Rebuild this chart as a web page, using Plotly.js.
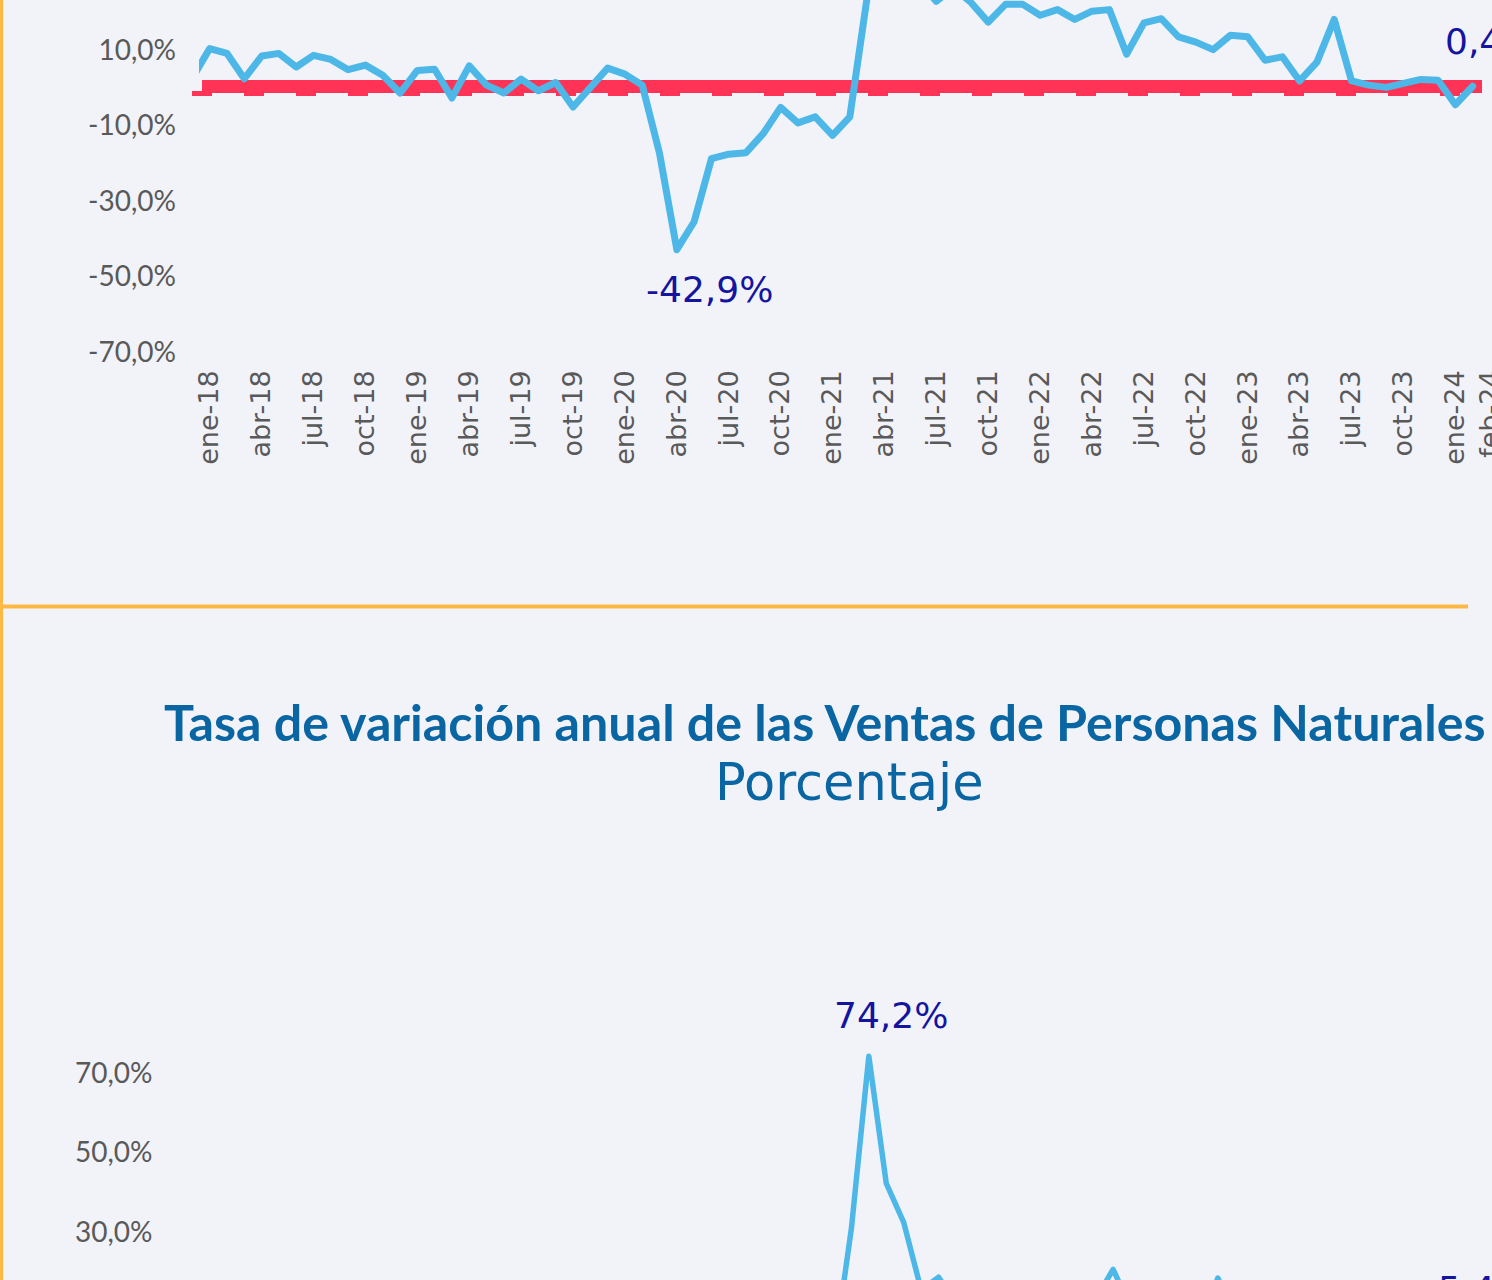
<!DOCTYPE html>
<html lang="es">
<head>
<meta charset="utf-8">
<script src="https://cdn.plot.ly/plotly-3.0.1.min.js"></script>
<style>
html,body{margin:0;padding:0;background:#F2F3F9;overflow:hidden;}
#chart{width:1492px;height:1280px;}
.js-line{stroke-linejoin:round !important;stroke-linecap:round !important;}
</style>
</head>
<body>
<div id="chart"></div>
<script>
// ---------------- DATA ----------------
const meses = [
  'dic-17',
  'ene-18','feb-18','mar-18','abr-18','may-18','jun-18','jul-18','ago-18','sep-18','oct-18','nov-18','dic-18',
  'ene-19','feb-19','mar-19','abr-19','may-19','jun-19','jul-19','ago-19','sep-19','oct-19','nov-19','dic-19',
  'ene-20','feb-20','mar-20','abr-20','may-20','jun-20','jul-20','ago-20','sep-20','oct-20','nov-20','dic-20',
  'ene-21','feb-21','mar-21','abr-21','may-21','jun-21','jul-21','ago-21','sep-21','oct-21','nov-21','dic-21',
  'ene-22','feb-22','mar-22','abr-22','may-22','jun-22','jul-22','ago-22','sep-22','oct-22','nov-22','dic-22',
  'ene-23','feb-23','mar-23','abr-23','may-23','jun-23','jul-23','ago-23','sep-23','oct-23','nov-23','dic-23',
  'ene-24','feb-24'
];

// Upper chart (series partly cut off at the top of the page)
const variacionVentasTotales = [
  2.6,
  10.4, 9.1, 2.4, 8.4, 9.1, 5.5, 8.6, 7.5, 4.8, 6.0, 3.3, -1.4,
  4.6, 4.9, -2.7, 5.8, 0.7, -1.4, 2.3, -0.8, 1.4, -5.1, 0.0, 5.2,
  3.6, 0.7, -17.4, -42.9, -35.5, -18.8, -17.6, -17.2, -12.1, -5.2, -9.3, -7.7,
  -12.6, -7.7, 24.0, 68.0, 45.0, 28.0, 22.9, 26.5, 22.6, 17.4, 22.1, 22.1,
  19.2, 20.7, 18.1, 20.3, 20.7, 8.9, 17.2, 18.3, 13.5, 12.1, 10.1, 13.9,
  13.5, 7.3, 8.2, 1.8, 6.8, 18.1, 1.8, 0.7, 0.1, 1.1, 2.2, 2.0,
  -4.5, 0.4
];

// Lower chart: Ventas de Personas Naturales
const variacionPersonasNaturales = [
  3.0,
  8.0, 6.5, 1.5, 7.0, 7.5, 4.0, 7.0, 6.0, 3.5, 5.0, 2.5, -2.0,
  3.5, 4.0, -3.0, 5.0, 0.5, -2.0, 2.0, -1.0, 1.0, -6.0, -0.5, 4.0,
  2.5, 0.5, -20.0, -48.0, -40.0, -22.0, -20.0, -19.0, -14.0, -7.0, -11.0, -9.0,
  -14.0, -0.3, 30.8, 74.2, 42.2, 32.4, 15.4, 18.6, 12.0, 10.5, 14.0, 13.5,
  11.0, 12.5, 10.0, 12.0, 13.0, 20.6, 11.0, 12.0, 8.5, 7.5, 6.0, 18.4,
  9.0, 5.0, 6.0, 1.0, 4.5, 9.0, 2.0, 1.5, 1.0, 2.0, 3.0, 3.5,
  -2.0, 5.4
];

const etiquetasEjeX = [
  'ene-18','abr-18','jul-18','oct-18','ene-19','abr-19','jul-19','oct-19',
  'ene-20','abr-20','jul-20','oct-20','ene-21','abr-21','jul-21','oct-21',
  'ene-22','abr-22','jul-22','oct-22','ene-23','abr-23','jul-23','oct-23',
  'ene-24'
];
const etiquetaFinalEjeX = ['feb-24'];
const ticksSuperior = [-70, -50, -30, -10, 10];
const ticksInferior = [10, 30, 50, 70];
const lineaReferencia = 0;

const etiquetasSuperior = ['abr-20', 'feb-24'];
const etiquetasInferior = ['abr-21', 'feb-24'];

const tituloInferior = 'Tasa de variación anual de las Ventas de Personas Naturales';
const subtituloInferior = 'Porcentaje';

// ---------------- LAYOUT ----------------
const W = 1492, H = 1280;
const fmt = v => v.toFixed(1).replace('.', ',') + '%';
const px = v => v / W;
const py = v => 1 - v / H;

const areaSup = {l: 199, r: 1482, t: 0, b: 352, ymin: -70, ymax: 23.25};
const areaInf = {l: 177.5, r: 1471.5, t: 1013, b: 1280, ymin: 17.9, ymax: 85.07};
const xRange = [0.38, 74.54];

const azul = '#4DB8E8';
const navy = '#1414A0';
const tituloColor = '#0A66A3';
const gris = '#595959';
const naranja = '#FFB942';
const rojo = '#FF3355';

const yTickFont = {family: 'Lato, sans-serif', size: 28, color: gris};
const xTickFont = {family: 'DejaVu Sans, sans-serif', size: 27, color: gris};
const labelFont = {family: 'DejaVu Sans, sans-serif', size: 36, color: navy};

const traces = [
  {x: meses, y: variacionVentasTotales, xaxis: 'x', yaxis: 'y', type: 'scatter', mode: 'lines',
   line: {color: azul, width: 7}, hoverinfo: 'skip'},
  {x: meses, y: variacionPersonasNaturales, xaxis: 'x2', yaxis: 'y2', type: 'scatter', mode: 'lines',
   line: {color: azul, width: 5.5}, hoverinfo: 'skip'},
  // carrier (invisible) for the overlay axis that holds the last month label
  {x: meses, y: variacionVentasTotales, xaxis: 'x3', yaxis: 'y', type: 'scatter', mode: 'lines',
   line: {color: 'rgba(0,0,0,0)', width: 0}, opacity: 0, hoverinfo: 'skip'}
];

const baseX = {
  type: 'category', categoryorder: 'array', categoryarray: meses,
  showgrid: false, zeroline: false, showline: false, ticks: '', fixedrange: true
};

function valorEn(serie, mes) { return serie[meses.indexOf(mes)]; }

function paperYInferior(v) {
  const d0 = py(areaInf.b), d1 = py(areaInf.t);
  return d0 + (v - areaInf.ymin) / (areaInf.ymax - areaInf.ymin) * (d1 - d0);
}

const layout = {
  width: W, height: H, autosize: false,
  margin: {l: 0, r: 0, t: 0, b: 0, pad: 0},
  paper_bgcolor: '#F2F3F9', plot_bgcolor: 'rgba(0,0,0,0)',
  showlegend: false,
  separators: ',.',
  xaxis: Object.assign({}, baseX, {
    domain: [px(areaSup.l), px(areaSup.r)], anchor: 'y', range: xRange,
    tickmode: 'array', tickvals: etiquetasEjeX, ticktext: etiquetasEjeX,
    tickangle: -90, tickfont: xTickFont, ticklabelstandoff: 12
  }),
  xaxis3: Object.assign({}, baseX, {
    domain: [px(areaSup.l), px(areaSup.r)], anchor: 'y', overlaying: 'x', side: 'bottom', range: xRange,
    tickmode: 'array', tickvals: etiquetaFinalEjeX, ticktext: etiquetaFinalEjeX,
    tickangle: -90, tickfont: xTickFont, ticklabelstandoff: 12, ticklabelshift: 18
  }),
  yaxis: {
    domain: [py(areaSup.b), py(areaSup.t)], anchor: 'x', range: [areaSup.ymin, areaSup.ymax],
    tickmode: 'array', tickvals: ticksSuperior, ticktext: ticksSuperior.map(fmt),
    tickfont: yTickFont, showgrid: false, zeroline: false, showline: false, ticks: '',
    ticklabelstandoff: 22, fixedrange: true
  },
  xaxis2: Object.assign({}, baseX, {
    domain: [px(areaInf.l), px(areaInf.r)], anchor: 'y2', range: xRange, showticklabels: false
  }),
  yaxis2: {
    domain: [py(areaInf.b), py(areaInf.t)], anchor: 'x2', range: [areaInf.ymin, areaInf.ymax],
    tickmode: 'array', tickvals: ticksInferior, ticktext: ticksInferior.map(fmt),
    tickfont: yTickFont, showgrid: false, zeroline: false, showline: false, ticks: '',
    ticklabelstandoff: 24, fixedrange: true
  },
  shapes: [
    {type: 'line', xref: 'paper', yref: 'y', x0: px(202), x1: px(1482), y0: lineaReferencia + 0.33, y1: lineaReferencia + 0.33,
     line: {color: rojo, width: 13}, layer: 'below'},
    {type: 'line', xref: 'paper', yref: 'y', x0: px(192), x1: px(1482), y0: lineaReferencia - 1.52, y1: lineaReferencia - 1.52,
     line: {color: rojo, width: 5, dash: '20px,32px'}, layer: 'below'},
    {type: 'line', xref: 'paper', yref: 'paper', x0: px(1.5), x1: px(1.5), y0: 0, y1: 1,
     line: {color: naranja, width: 3}, layer: 'below'},
    {type: 'line', xref: 'paper', yref: 'paper', x0: 0, x1: px(1468), y0: py(606.5), y1: py(606.5),
     line: {color: naranja, width: 4}, layer: 'below'}
  ],
  annotations: [
    {xref: 'x', yref: 'y', x: etiquetasSuperior[0], y: valorEn(variacionVentasTotales, etiquetasSuperior[0]),
     text: fmt(valorEn(variacionVentasTotales, etiquetasSuperior[0])), showarrow: false,
     xshift: 33, yshift: -40, font: labelFont},
    {xref: 'x', yref: 'y', x: etiquetasSuperior[1], y: valorEn(variacionVentasTotales, etiquetasSuperior[1]),
     text: fmt(valorEn(variacionVentasTotales, etiquetasSuperior[1])), showarrow: false,
     xshift: 18, yshift: 45, font: labelFont},
    {xref: 'x2', yref: 'y2', x: etiquetasInferior[0], y: valorEn(variacionPersonasNaturales, etiquetasInferior[0]),
     text: fmt(valorEn(variacionPersonasNaturales, etiquetasInferior[0])), showarrow: false,
     xshift: 22, yshift: 41, font: labelFont},
    {xref: 'x2', yref: 'paper', x: etiquetasInferior[1], y: paperYInferior(valorEn(variacionPersonasNaturales, etiquetasInferior[1])),
     text: fmt(valorEn(variacionPersonasNaturales, etiquetasInferior[1])), showarrow: false,
     xshift: 21, yshift: 18, font: labelFont},
    {xref: 'paper', yref: 'paper', x: px(162), y: py(721), xanchor: 'left', yanchor: 'middle',
     text: '<b>' + tituloInferior + '</b>', showarrow: false,
     font: {family: 'Lato, sans-serif', size: 50.2, color: tituloColor}},
    {xref: 'paper', yref: 'paper', x: px(849.5), y: py(782), xanchor: 'center', yanchor: 'middle',
     text: subtituloInferior, showarrow: false,
     font: {family: 'DejaVu Sans, sans-serif', size: 51, color: tituloColor}}
  ]
};

Plotly.newPlot('chart', traces, layout, {staticPlot: true, displayModeBar: false});
</script>
</body>
</html>
